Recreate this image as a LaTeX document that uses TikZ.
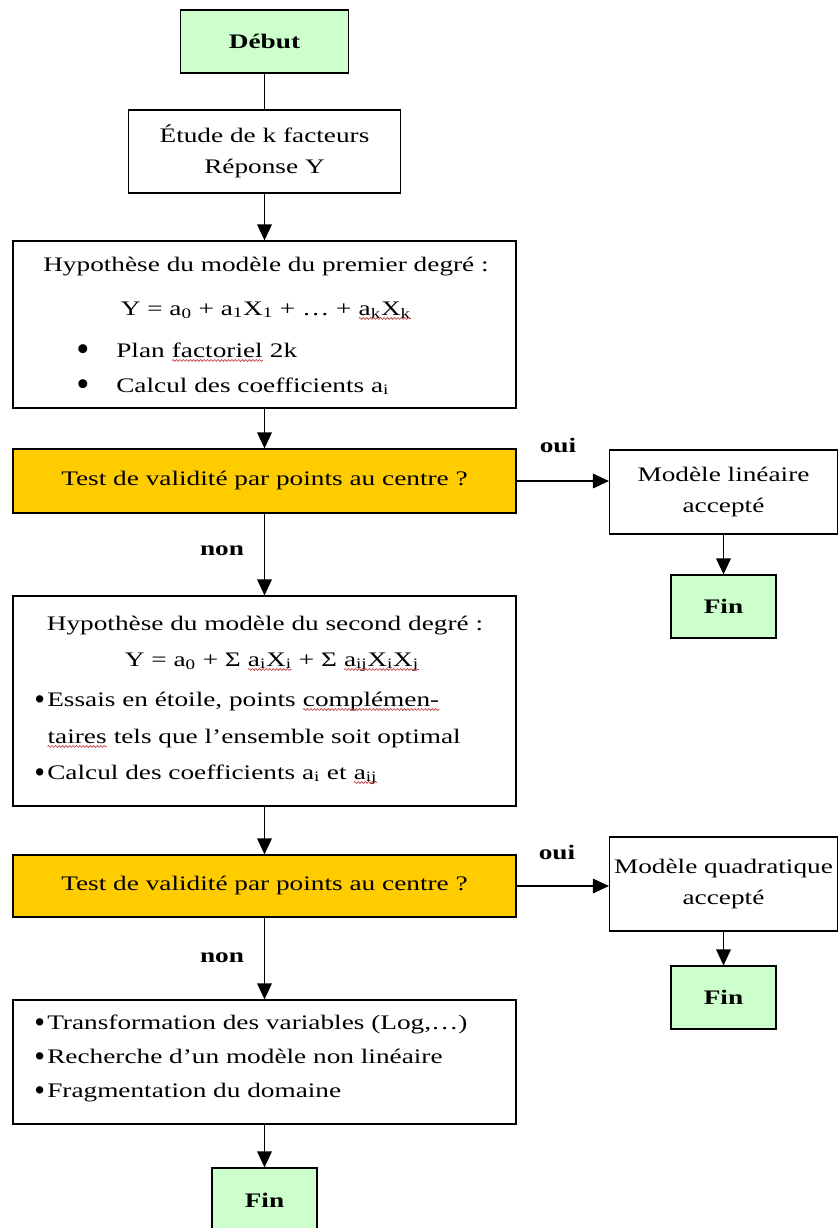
\documentclass[tikz,border=0pt]{standalone}
\usepackage{fontspec}
\usepackage{graphicx}
\setmainfont{Liberation Serif}[FakeStretch=1.32]
\newfontfamily\bulfont{Liberation Serif}
\usetikzlibrary{arrows.meta,decorations.pathmorphing}
\definecolor{fingreen}{HTML}{CCFFCC}
\definecolor{testyellow}{HTML}{FFCC00}
\definecolor{wavered}{HTML}{C03030}
\newcommand\wv[1]{\tikz[baseline=(wvbox.base)]{\node[inner sep=0pt, outer sep=0pt] (wvbox) {#1};
  \draw[wavered, line width=0.45pt, decorate, decoration={snake, amplitude=0.7pt, segment length=2.6pt}]
    ([yshift=-2.6pt]wvbox.base west) -- ([yshift=-2.6pt]wvbox.base east);}}
\newcommand\sbs[1]{\textsubscript{#1}}
% large bullet (first box) and medium bullet (other boxes)
\newcommand\bulA{\makebox[30pt][l]{\raisebox{-3.6pt}{\bulfont\fontsize{28}{28}\selectfont\textbullet}}}
\newcommand\bulB{\makebox[9.75pt][l]{\raisebox{-2.6pt}{\bulfont\fontsize{23}{23}\selectfont\textbullet}}}
\begin{document}
\begin{tikzpicture}[x=0.75pt,y=-0.75pt,
  tx/.style={font=\fontsize{15.5}{23}\selectfont},
  bold/.style={font=\fontsize{15.5}{23}\selectfont\bfseries},
  flowbox/.style={draw, line width=0.9pt, inner sep=0pt, align=center, tx},
  sz/.style 2 args={minimum width=#1*0.75pt, minimum height=#2*0.75pt},
  line/.style={tx, inner sep=0pt},
  lbl/.style={bold, inner sep=0pt},
  conn/.style={line width=0.9pt},
  arr/.style={conn, -{Triangle[length=12pt,width=11pt]}}
]
\useasboundingbox (0,0) rectangle (838,1228);

% main column
\node[flowbox, bold, fill=fingreen, sz={168}{63}] (debut) at (264.5,41.5) {Début};
\node[flowbox, sz={272}{83}] (etude) at (264.5,151.5) {Étude de k facteurs\\Réponse Y};

\node[flowbox, sz={503}{167}] (hyp1) at (264.5,324.5) {};
\node[line, anchor=base] (h1a) at (266,271) {Hypothèse du modèle du premier degré :};
\node[line, anchor=base] (h1b) at (266,315) {Y = a\sbs{0} + a\sbs{1}X\sbs{1} + … + \wv{a\sbs{k}X\sbs{k}}};
\node[line, anchor=base west] (h1c) at (76,357) {\bulA Plan \wv{factoriel} 2k};
\node[line, anchor=base west] (h1d) at (76,392) {\bulA Calcul des coefficients a\sbs{i}};

\node[flowbox, fill=testyellow, sz={503}{64}] (test1) at (264.5,481) {Test de validité par points au centre ?};

\node[flowbox, sz={503}{210}] (hyp2) at (264.5,701) {};
\node[line, anchor=base] (h2a) at (265,630) {Hypothèse du modèle du second degré :};
\node[line, anchor=base] (h2b) at (272,666) {Y = a\sbs{0} + Σ \wv{a\sbs{i}X\sbs{i}} + Σ \wv{a\sbs{ij}X\sbs{i}X\sbs{j}}};
\node[line, anchor=base west] (h2c) at (34,706) {\bulB Essais en étoile, points \wv{complémen-}};
\node[line, anchor=base west] (h2d) at (47,743) {\wv{taires} tels que l’ensemble soit optimal};
\node[line, anchor=base west] (h2e) at (34,779) {\bulB Calcul des coefficients a\sbs{i} et \wv{a\sbs{ij}}};

\node[flowbox, fill=testyellow, sz={503}{62}] (test2) at (264.5,886) {Test de validité par points au centre ?};

\node[flowbox, sz={503}{124}] (last) at (264.5,1062) {};
\node[line, anchor=base west] (l1) at (34,1029) {\bulB Transformation des variables (Log,…)};
\node[line, anchor=base west] (l2) at (34,1063) {\bulB Recherche d’un modèle non linéaire};
\node[line, anchor=base west] (l3) at (34,1097) {\bulB Fragmentation du domaine};

\node[flowbox, bold, fill=fingreen, sz={105}{64}] (fin3) at (264.5,1200) {Fin};

% right column
\node[flowbox, sz={228}{84}] (lin) at (723.5,492) {Modèle linéaire\\accepté};
\node[flowbox, bold, fill=fingreen, sz={105}{63}] (fin1) at (723.5,606.5) {Fin};
\node[flowbox, sz={228}{94}] (quad) at (723.5,884) {Modèle quadratique\\accepté};
\node[flowbox, bold, fill=fingreen, sz={105}{63}] (fin2) at (723.5,997.5) {Fin};

% labels
\node[lbl] (oui1) at (558,445) {oui};
\node[lbl] (non1) at (222,551) {non};
\node[lbl] (oui2) at (557,852) {oui};
\node[lbl] (non2) at (222,958) {non};

% connectors
\draw[conn] (debut) -- (etude);
\draw[arr] (etude) -- (hyp1);
\draw[arr] (hyp1) -- (test1);
\draw[arr] (test1.east) -- (test1.east -| lin.west);
\draw[arr] (lin) -- (fin1);
\draw[arr] (test1) -- (hyp2);
\draw[arr] (hyp2) -- (test2);
\draw[arr] (test2.east) -- (test2.east -| quad.west);
\draw[arr] (quad) -- (fin2);
\draw[arr] (test2) -- (last);
\draw[arr] (last) -- (fin3);
\end{tikzpicture}
\end{document}
